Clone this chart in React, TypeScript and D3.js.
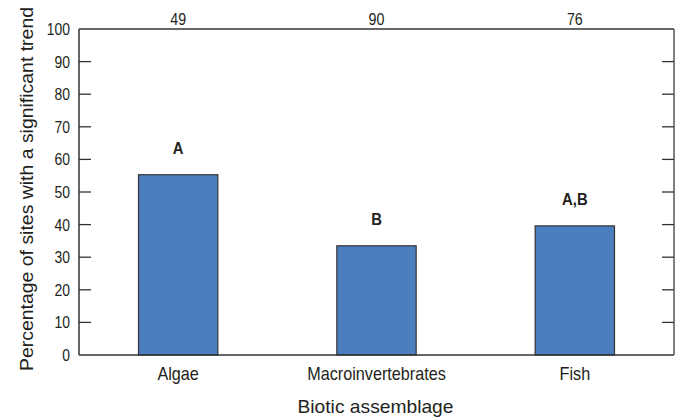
import React from "react";
import * as d3 from "d3";

// biotic assemblages and the percent of sites with a significant trend
const categories = ["Algae", "Macroinvertebrates", "Fish"];
const percentTrend = [55.3, 33.5, 39.6];
const siteCounts = ["49", "90", "76"];
const groupLetters = ["A", "B", "A,B"];
const yTicks = [0, 10, 20, 30, 40, 50, 60, 70, 80, 90, 100];

const W = 678;
const H = 419;
const margin = { top: 29, right: 4, bottom: 64, left: 79 };
const font = "'Liberation Sans', Arial, sans-serif";
const ink = "#231f20";

// condensed-looking text: squeeze Liberation Sans horizontally
function CText(props: {
  x: number;
  y: number;
  size: number;
  sx?: number;
  anchor?: string;
  bold?: boolean;
  rotate?: number;
  length?: number;
  children: React.ReactNode;
}) {
  const { x, y, size, sx = 0.86, anchor = "middle", bold, rotate = 0, length } = props;
  return (
    <g transform={`translate(${x},${y}) rotate(${rotate}) scale(${sx},1)`}>
      <text
        textAnchor={anchor}
        fontSize={size}
        fontWeight={bold ? "bold" : "normal"}
        fill={ink}
        textLength={length}
        lengthAdjust={length ? "spacingAndGlyphs" : undefined}
      >
        {props.children}
      </text>
    </g>
  );
}

export default function App() {
  const x = d3
    .scaleBand<string>()
    .domain(categories)
    .range([margin.left, W - margin.right]);

  const y = d3
    .scaleLinear()
    .domain([0, 100])
    .range([H - margin.bottom, margin.top]);

  const barW = x.bandwidth() * 0.4;
  const left = margin.left;
  const right = W - margin.right;
  const top = margin.top;
  const bottom = H - margin.bottom;
  const tickLen = 12;
  const mid = (c: string) => x(c)! + x.bandwidth() / 2;

  return (
    <svg
      width={W}
      height={H}
      style={{ position: "absolute", left: 0, top: 0, background: "#fff" }}
      fontFamily={font}
    >
      {/* bars */}
      {categories.map((c, i) => (
        <rect
          key={c}
          x={mid(c) - barW / 2}
          y={y(percentTrend[i])}
          width={barW}
          height={y(0) - y(percentTrend[i])}
          fill="#4a7ebf"
          stroke="#333"
          strokeWidth={1.2}
        />
      ))}

      {/* frame */}
      <line x1={left} x2={right} y1={top} y2={top} stroke="#666" strokeWidth={2} />
      <line x1={left} x2={right} y1={bottom} y2={bottom} stroke="#333" strokeWidth={1.5} />
      <line x1={left} x2={left} y1={top} y2={bottom} stroke="#333" strokeWidth={1.5} />
      <line x1={right} x2={right} y1={top} y2={bottom} stroke="#555" strokeWidth={1.5} />

      {/* y ticks, inward on both sides */}
      {yTicks.map((t) => (
        <g key={t}>
          {t > 0 && t < 100 && (
            <>
              <line x1={left} x2={left + tickLen} y1={y(t)} y2={y(t)} stroke="#333" strokeWidth={1.3} />
              <line x1={right - tickLen} x2={right} y1={y(t)} y2={y(t)} stroke="#333" strokeWidth={1.3} />
            </>
          )}
          <CText x={left - 9} y={y(t) + 6} size={17} sx={0.82} anchor="end">
            {t}
          </CText>
        </g>
      ))}

      {/* category labels */}
      {categories.map((c) => (
        <CText key={c} x={mid(c)} y={380} size={18} sx={0.9}>
          {c}
        </CText>
      ))}

      {/* site counts above the frame */}
      {categories.map((c, i) => (
        <CText key={c} x={mid(c)} y={25} size={17} sx={0.84}>
          {siteCounts[i]}
        </CText>
      ))}

      {/* significance letters */}
      {categories.map((c, i) => (
        <CText key={c} x={mid(c)} y={y(percentTrend[i]) - 21} size={16.5} sx={0.9} bold>
          {groupLetters[i]}
        </CText>
      ))}

      {/* axis titles */}
      <CText x={(left + right) / 2 - 1} y={413} size={19} sx={1} length={156}>
        Biotic assemblage
      </CText>
      <CText x={33} y={189} size={19} sx={1} rotate={-90} length={364}>
        Percentage of sites with a significant trend
      </CText>
    </svg>
  );
}
